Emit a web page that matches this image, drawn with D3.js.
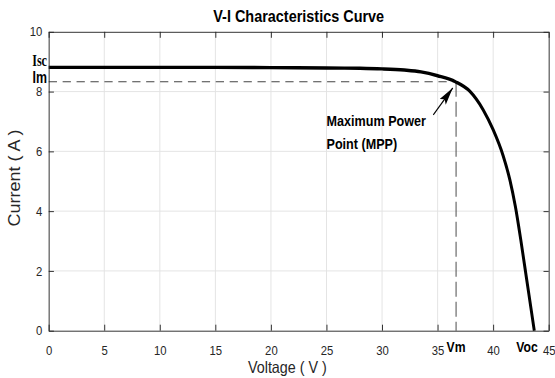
<!DOCTYPE html>
<html>
<head>
<meta charset="utf-8">
<script src="https://cdn.jsdelivr.net/npm/d3@7"></script>
<style>
  html, body { margin: 0; padding: 0; background: #fff; }
  svg { display: block; }
</style>
</head>
<body>
<script>
// V-I curve
const voltage = [0, 5, 10, 15, 20, 25, 28, 30, 32, 33.5, 35, 36.6, 37.9, 39.1, 40.0, 40.9, 41.5, 42.0, 42.5, 43.0, 43.4, 43.7];
const current = [8.81, 8.81, 8.81, 8.81, 8.8, 8.79, 8.78, 8.76, 8.72, 8.66, 8.53, 8.33, 8.01, 7.39, 6.72, 5.85, 5.05, 4.15, 3.0, 1.75, 0.75, 0];

const xTickValues = [0, 5, 10, 15, 20, 25, 30, 35, 40, 45];
const yTickValues = [0, 2, 4, 6, 8, 10];

const isc = 8.81, im = 8.33, vm = 36.66, voc = 43.7;

// the reference is squeezed sideways, so draw wider and let the viewBox squash it
const W = 638, H = 378;
const svg = d3.select('body').append('svg')
  .attr('width', 555).attr('height', 378)
  .attr('viewBox', `0 0 ${W} ${H}`)
  .attr('preserveAspectRatio', 'none');

svg.append('rect').attr('width', W).attr('height', H).attr('fill', '#fff');

const x = d3.scaleLinear().domain([0, 45]).range([56, 630.8]);
const y = d3.scaleLinear().domain([0, 10]).range([330.7, 31.8]);

const font = '"Liberation Sans", Arial, sans-serif';

// grid
const grid = svg.append('g').attr('stroke', '#e2e2e2').attr('stroke-width', 1);
grid.selectAll('.gx').data(xTickValues.slice(1, -1)).join('line')
  .attr('x1', d => x(d)).attr('x2', d => x(d))
  .attr('y1', y(0)).attr('y2', y(10));
grid.selectAll('.gy').data(yTickValues.slice(1, -1)).join('line')
  .attr('x1', x(0)).attr('x2', x(45))
  .attr('y1', d => y(d)).attr('y2', d => y(d));

// dashed guide lines to the MPP
const guide = svg.append('g').attr('stroke', '#444').attr('stroke-width', 1.1).attr('fill', 'none');
guide.append('line')
  .attr('x1', x(0)).attr('x2', x(vm)).attr('y1', y(im)).attr('y2', y(im))
  .attr('stroke-dasharray', '9.5,6.5');
guide.append('line')
  .attr('x1', x(vm)).attr('x2', x(vm)).attr('y1', y(im)).attr('y2', y(0))
  .attr('stroke-dasharray', '15,5');

// curve
const line = d3.line()
  .x((d, i) => x(voltage[i]))
  .y(d => y(d))
  .curve(d3.curveMonotoneX);
svg.append('path')
  .attr('d', line(current))
  .attr('fill', 'none')
  .attr('stroke', '#000')
  .attr('stroke-width', 3.4)
  .attr('stroke-linejoin', 'round');

// axes, ticks inside on all four sides
function styleAxis(g) {
  g.attr('color', '#262626').attr('font-family', font).attr('font-size', 13);
  g.selectAll('text').attr('fill', '#262626');
}
svg.append('g').attr('transform', `translate(0,${y(0)})`)
  .call(d3.axisBottom(x).tickValues(xTickValues).tickSize(-6).tickSizeOuter(0).tickPadding(15.2))
  .call(styleAxis);
svg.append('g').attr('transform', `translate(0,${y(10)})`)
  .call(d3.axisTop(x).tickValues(xTickValues).tickSize(-6).tickSizeOuter(0).tickFormat(''))
  .call(styleAxis);
svg.append('g').attr('transform', `translate(${x(0)},0)`)
  .call(d3.axisLeft(y).tickValues(yTickValues).tickSize(-6).tickSizeOuter(0).tickPadding(7.4))
  .call(styleAxis);
svg.append('g').attr('transform', `translate(${x(45)},0)`)
  .call(d3.axisRight(y).tickValues(yTickValues).tickSize(-6).tickSizeOuter(0).tickFormat(''))
  .call(styleAxis);

// title and axis labels
svg.append('text')
  .attr('x', (x(0) + x(45)) / 2).attr('y', 22)
  .attr('text-anchor', 'middle')
  .attr('font-family', font).attr('font-weight', 'bold').attr('font-size', 16.6)
  .text('V-I Characteristics Curve');

svg.append('text')
  .attr('x', (x(0) + x(45)) / 2 - 13).attr('y', 373.5)
  .attr('text-anchor', 'middle')
  .attr('font-family', font).attr('font-size', 16.5).attr('fill', '#262626')
  .text('Voltage ( V )');

svg.append('text')
  .attr('transform', `translate(23,178) rotate(-90)`)
  .attr('text-anchor', 'middle')
  .attr('font-family', font).attr('font-size', 18).attr('fill', '#262626')
  .text('Current ( A )');

// point labels
svg.append('text')
  .attr('x', x(0) - 2).attr('y', y(isc) - 1.7)
  .attr('text-anchor', 'end')
  .attr('font-family', '"Liberation Serif", "Times New Roman", serif')
  .attr('font-weight', 'bold').attr('font-size', 17)
  .attr('textLength', 17).attr('lengthAdjust', 'spacingAndGlyphs')
  .text('Isc');
svg.append('text')
  .attr('x', x(0) - 2).attr('y', y(im) + 0.8)
  .attr('text-anchor', 'end')
  .attr('font-family', font).attr('font-weight', 'bold').attr('font-size', 16)
  .attr('textLength', 16.6).attr('lengthAdjust', 'spacingAndGlyphs')
  .text('Im');
svg.append('text')
  .attr('x', x(vm)).attr('y', 352)
  .attr('text-anchor', 'middle')
  .attr('font-family', font).attr('font-weight', 'bold').attr('font-size', 14)
  .text('Vm');
svg.append('text')
  .attr('x', x(voc) + 4).attr('y', 352)
  .attr('text-anchor', 'end')
  .attr('font-family', font).attr('font-weight', 'bold').attr('font-size', 14)
  .text('Voc');

// MPP annotation
const note = svg.append('text')
  .attr('font-family', font).attr('font-weight', 'bold').attr('font-size', 14.5);
note.append('tspan').attr('x', x(25)).attr('y', 126).text('Maximum Power');
note.append('tspan').attr('x', x(25)).attr('y', 149).text('Point (MPP)');

svg.append('defs').append('marker')
  .attr('id', 'head')
  .attr('markerUnits', 'userSpaceOnUse')
  .attr('markerWidth', 20).attr('markerHeight', 10)
  .attr('refX', 18).attr('refY', 4.5)
  .attr('orient', 'auto')
  .append('path').attr('d', 'M0,0L18,4.5L0,9L3.5,4.5Z').attr('fill', '#000');

svg.append('line')
  .attr('x1', x(34.61)).attr('y1', y(7.22))
  .attr('x2', x(36.36)).attr('y2', y(8.12))
  .attr('stroke', '#000').attr('stroke-width', 1.3)
  .attr('marker-end', 'url(#head)');
</script>
</body>
</html>
